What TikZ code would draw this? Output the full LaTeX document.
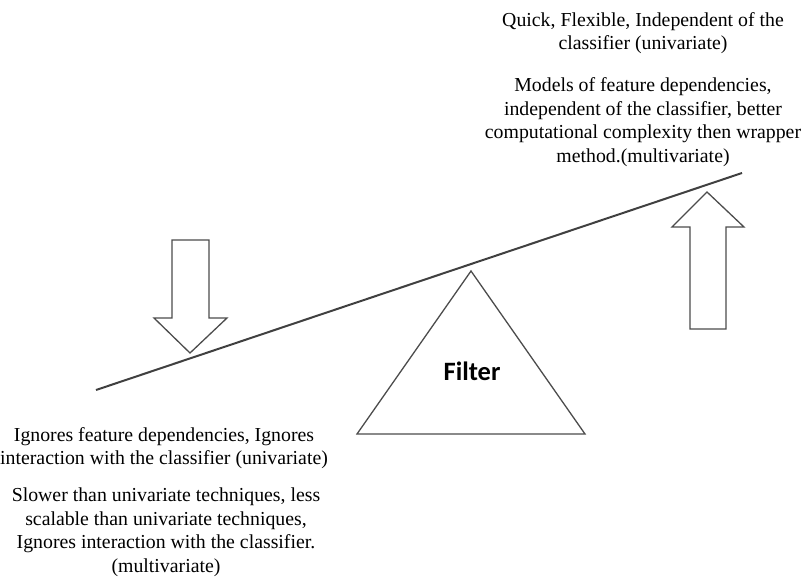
\documentclass[tikz,border=0pt]{standalone}
\usepackage{fontspec}
\setmainfont{Liberation Serif}
\newfontfamily\filterfont{Carlito}
\usetikzlibrary{positioning}

\begin{document}
\begin{tikzpicture}[x=1pt,y=-1pt,
    note/.style={align=center,font=\fontsize{19.8}{23.5}\selectfont},
    part/.style={draw=black!70,line width=1.3pt,line join=miter}]
    \useasboundingbox (0,0) rectangle (806,583);
    % beam and pivot
    \draw[black!75,line width=2pt] (96,390) -- (742,173);
    \draw[part] (471,271) -- (585,434) -- (357,434) -- cycle;
    \node[font=\filterfont\bfseries\fontsize{26.5}{30}\selectfont] (filter) at (472,371) {Filter};
    % arrows
    \draw[part] (172,240) -- (209,240) -- (209,318) -- (227,318) -- (190,353)
        -- (154,318) -- (172,318) -- cycle;
    \draw[part] (690,329) -- (726,329) -- (726,227) -- (744,227) -- (707,192)
        -- (672,227) -- (690,227) -- cycle;
    % texts
    \node[note] (quick) at (643,33) {Quick, Flexible, Independent of the\\classifier (univariate)};
    \node[note] (models) at (643,122) {Models of feature dependencies,\\independent of the classifier, better\\computational complexity then wrapper\\method.(multivariate)};
    \node[note] (ignores) at (164,448) {Ignores feature dependencies, Ignores\\interaction with the classifier (univariate)};
    \node[note] (slower) at (166,532) {Slower than univariate techniques, less\\scalable than univariate techniques,\\Ignores interaction with the classifier.\\(multivariate)};
\end{tikzpicture}
\end{document}
